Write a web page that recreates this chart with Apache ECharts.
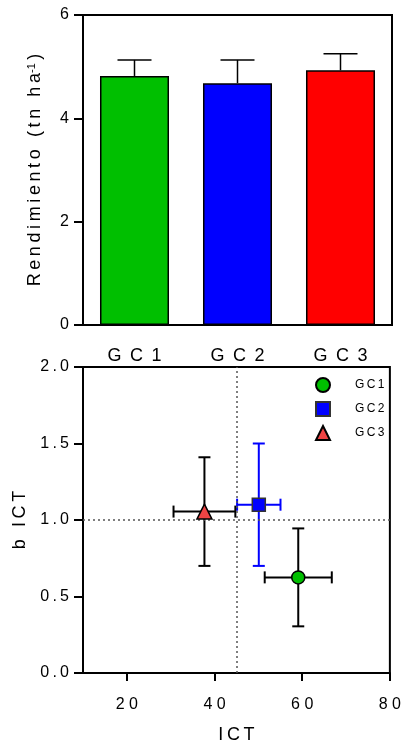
<!DOCTYPE html>
<html>
<head>
<meta charset="utf-8">
<script src="https://cdn.jsdelivr.net/npm/echarts@6/dist/echarts.min.js"></script>
<style>
  html, body { margin: 0; padding: 0; background: #fff; }
  #main { width: 404px; height: 745px; }
</style>
</head>
<body>
<div id="main"></div>
<script>
// rendimiento (barras)
var categories = ['GC1', 'GC2', 'GC3'];
var rendimiento = [4.82, 4.68, 4.93];
var rendimientoErr = [0.31, 0.45, 0.32];

// ICT vs b ICT
var ictX = [59.1, 50.1, 37.7];
var ictXErr = [7.65, 4.95, 7.05];
var bIct = [0.625, 1.1, 1.055];
var bIctErr = [0.32, 0.4, 0.355];
var xTicksBottom = [20, 40, 60, 80];

var barColors = ['#00BF00', '#0000FF', '#FF0000'];
var pointColors = ['#00BF00', '#0000FF', '#EF4444'];
var pointSymbols = ['circle', 'rect', 'triangle'];
var errColors = ['#000', '#0000FF', '#000'];

var font = '"Liberation Sans", Arial, sans-serif';

function spaced(s, sep) {
	return String(s).split('').join(sep || ' ');
}

var myChart = echarts.init(document.getElementById('main'));

var barData = [];
for (var i = 0; i < categories.length; i++) {
	barData.push({
		value: rendimiento[i],
		itemStyle: { color: barColors[i] }
	});
}
var barErrData = [];
for (var i = 0; i < categories.length; i++) {
	barErrData.push([i, rendimiento[i], rendimientoErr[i]]);
}
var ptErrData = [];
for (var i = 0; i < categories.length; i++) {
	ptErrData.push([ictX[i], bIct[i], ictXErr[i], bIctErr[i], i]);
}

var scatterSeries = [];
for (var i = 0; i < categories.length; i++) {
	scatterSeries.push({
		name: categories[i],
		type: 'scatter',
		xAxisIndex: 1,
		yAxisIndex: 1,
		symbol: pointSymbols[i],
		symbolSize: i == 2 ? 15 : 13,
		z: 5,
		itemStyle: {
			color: pointColors[i],
			borderColor: i == 1 ? '#333' : '#000',
			borderWidth: 1.5,
			opacity: 1
		},
		data: [[ictX[i], bIct[i]]]
	});
}

var option = {
	animation: false,
	textStyle: { fontFamily: font, color: '#000' },
	grid: [
		{ left: 83, right: 12, top: 15, height: 310, show: true, borderColor: '#000', borderWidth: 2 },
		{ left: 83, right: 12, top: 367, height: 310, show: true, borderColor: '#000', borderWidth: 2 }
	],
	legend: {
		orient: 'vertical',
		left: 310,
		top: 372,
		itemWidth: 14,
		itemHeight: 14,
		itemGap: 8,
		data: categories,
		formatter: function(n) { return spaced(n, '\u2009'); },
		textStyle: { fontFamily: font, fontSize: 12, color: '#000', padding: [0, 0, 0, 20] }
	},
	xAxis: [{
		type: 'category',
		gridIndex: 0,
		data: categories,
		axisLine: { lineStyle: { color: '#000', width: 2 } },
		axisTick: { alignWithLabel: true, length: 8, lineStyle: { color: '#000', width: 2 } },
		axisLabel: { fontSize: 18, color: '#000', margin: 22, formatter: function(v) { return spaced(v, '  '.slice(0, 1) + '\u2009'); } }
	}, {
		type: 'value',
		gridIndex: 1,
		min: 10,
		max: 80,
		splitLine: { show: false },
		axisLine: { lineStyle: { color: '#000', width: 2 } },
		axisTick: { length: 8, customValues: xTicksBottom, lineStyle: { color: '#000', width: 2 } },
		axisLabel: { fontSize: 16, color: '#000', margin: 24, customValues: xTicksBottom, formatter: function(v) { return spaced(v, ' '); } },
		name: spaced('ICT', '\u2009'),
		nameLocation: 'middle',
		nameGap: 53,
		nameTextStyle: { fontSize: 18, color: '#000', fontFamily: font }
	}],
	yAxis: [{
		type: 'value',
		gridIndex: 0,
		min: 0,
		max: 6,
		interval: 2,
		splitLine: { show: false },
		axisLine: { show: true, lineStyle: { color: '#000', width: 2 } },
		axisTick: { show: true, length: 9, lineStyle: { color: '#000', width: 2 } },
		axisLabel: { fontSize: 16, color: '#000', margin: 14 },
		name: spaced('Rendimiento (tn ha', '\u2009') + '{sup|-1}\u2009)',
		nameLocation: 'middle',
		nameGap: 38,
		nameTextStyle: {
			fontSize: 18, color: '#000', fontFamily: font,
			rich: { sup: { fontSize: 11, verticalAlign: 'top', padding: [0, 0, 8, 0], fontFamily: font } }
		}
	}, {
		type: 'value',
		gridIndex: 1,
		min: 0,
		max: 2,
		interval: 0.5,
		splitLine: { show: false },
		axisLine: { show: true, lineStyle: { color: '#000', width: 2 } },
		axisTick: { show: true, length: 9, lineStyle: { color: '#000', width: 2 } },
		axisLabel: { fontSize: 16, color: '#000', margin: 14, formatter: function(v) { return spaced(v.toFixed(1), '\u2009'); } },
		name: spaced('b ICT', '\u2009'),
		nameLocation: 'middle',
		nameGap: 52,
		nameTextStyle: { fontSize: 18, color: '#000', fontFamily: font }
	}],
	series: [{
		type: 'bar',
		xAxisIndex: 0,
		yAxisIndex: 0,
		barWidth: '67%',
		itemStyle: { borderColor: '#000', borderWidth: 1.5 },
		data: barData
	}, {
		type: 'custom',
		xAxisIndex: 0,
		yAxisIndex: 0,
		z: 4,
		renderItem: function(params, api) {
			var base = api.coord([api.value(0), api.value(1)]);
			var top = api.coord([api.value(0), api.value(1) + api.value(2)]);
			var st = { stroke: '#000', lineWidth: 1.5 };
			return {
				type: 'group',
				children: [
					{ type: 'line', shape: { x1: base[0], y1: base[1], x2: top[0], y2: top[1] }, style: st },
					{ type: 'line', shape: { x1: top[0] - 17, y1: top[1], x2: top[0] + 17, y2: top[1] }, style: st }
				]
			};
		},
		data: barErrData
	}, {
		type: 'custom',
		xAxisIndex: 1,
		yAxisIndex: 1,
		z: 3,
		renderItem: function(params, api) {
			var x = api.value(0), y = api.value(1), ex = api.value(2), ey = api.value(3);
			var c = errColors[api.value(4)];
			var l = api.coord([x - ex, y]), r = api.coord([x + ex, y]);
			var t = api.coord([x, y + ey]), b = api.coord([x, y - ey]);
			var st = { stroke: c, lineWidth: 2 };
			var cap = 6;
			return {
				type: 'group',
				children: [
					{ type: 'line', shape: { x1: l[0], y1: l[1], x2: r[0], y2: r[1] }, style: st },
					{ type: 'line', shape: { x1: l[0], y1: l[1] - cap, x2: l[0], y2: l[1] + cap }, style: st },
					{ type: 'line', shape: { x1: r[0], y1: r[1] - cap, x2: r[0], y2: r[1] + cap }, style: st },
					{ type: 'line', shape: { x1: t[0], y1: t[1], x2: b[0], y2: b[1] }, style: st },
					{ type: 'line', shape: { x1: t[0] - cap, y1: t[1], x2: t[0] + cap, y2: t[1] }, style: st },
					{ type: 'line', shape: { x1: b[0] - cap, y1: b[1], x2: b[0] + cap, y2: b[1] }, style: st }
				]
			};
		},
		markLine: {
			silent: true,
			symbol: ['none', 'none'],
			label: { show: false },
			lineStyle: { color: '#555', type: [2, 3], width: 1.5 },
			data: [{ xAxis: 45 }, { yAxis: 1 }]
		},
		data: ptErrData
	}].concat(scatterSeries)
};

myChart.setOption(option);
</script>
</body>
</html>
